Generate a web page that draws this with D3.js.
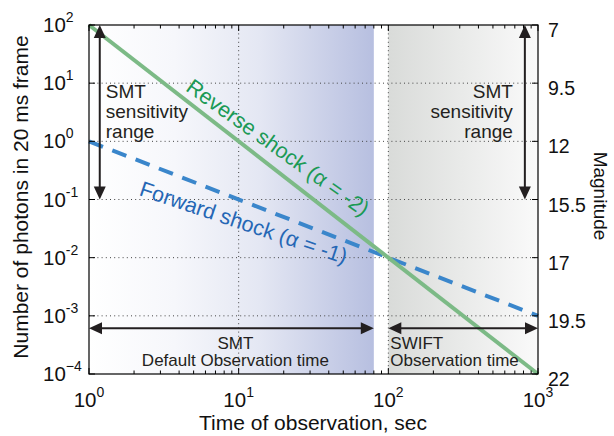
<!DOCTYPE html>
<html>
<head>
<meta charset="utf-8">
<script src="https://cdn.jsdelivr.net/npm/d3@7"></script>
<style>
html,body{margin:0;padding:0;background:#fff;}
svg{display:block;font-family:"Liberation Sans",Arial,Helvetica,sans-serif;}
</style>
</head>
<body>
<svg id="chart" width="614" height="436"></svg>
<script>
// ---- data ----
const xDomain = [1, 1000];
const yDomain = [1e-4, 1e2];
const xTickValues = [1, 10, 100, 1000];
const xTickExps = ["0", "1", "2", "3"];
const yTickValues = [1e2, 1e1, 1e0, 1e-1, 1e-2, 1e-3, 1e-4];
const yTickExps = ["2", "1", "0", "-1", "-2", "-3", "\u22124"];
const magnitudeLabels = ["7", "9.5", "12", "15.5", "17", "19.5", "22"];
const reverseShockX = [1, 1000];
const reverseShockY = [100, 1e-4];
const forwardShockX = [1, 1000];
const forwardShockY = [1, 1e-3];
const smtRegion = [1, 80];
const swiftRegion = [100, 1000];
const sensitivityRange = [100, 0.1];
const sensitivityArrowX = [1.18, 817];
const obsArrowY = 6.1e-4;

// ---- layout ----
const W = 614, H = 436;
const m = {left: 89, right: 76, top: 25, bottom: 62};
const iw = W - m.left - m.right, ih = H - m.top - m.bottom;
const svg = d3.select("#chart");
const defs = svg.append("defs");
const x = d3.scaleLog().domain(xDomain).range([0, iw]);
const y = d3.scaleLog().domain(yDomain).range([ih, 0]);
const g = svg.append("g").attr("transform", `translate(${m.left},${m.top})`);

// gradients
const gb = defs.append("linearGradient").attr("id", "gblue").attr("x1", "0").attr("x2", "1").attr("y1", "0").attr("y2", "0");
gb.append("stop").attr("offset", "0").attr("stop-color", "#ffffff");
gb.append("stop").attr("offset", "0.3").attr("stop-color", "#f6f7fb");
gb.append("stop").attr("offset", "0.6").attr("stop-color", "#e4e7f3");
gb.append("stop").attr("offset", "1").attr("stop-color", "#b7bfe0");
const gg = defs.append("linearGradient").attr("id", "ggray").attr("x1", "0").attr("x2", "1").attr("y1", "0").attr("y2", "0");
gg.append("stop").attr("offset", "0").attr("stop-color", "#d9dbd9");
gg.append("stop").attr("offset", "1").attr("stop-color", "#fafafa");

g.append("rect").attr("x", x(smtRegion[0])).attr("y", 0)
  .attr("width", x(smtRegion[1]) - x(smtRegion[0])).attr("height", ih).attr("fill", "url(#gblue)");
g.append("rect").attr("x", x(swiftRegion[0])).attr("y", 0)
  .attr("width", x(swiftRegion[1]) - x(swiftRegion[0])).attr("height", ih).attr("fill", "url(#ggray)");

// grid
const gridStyle = sel => sel.attr("stroke", "#444").attr("stroke-width", 1).attr("stroke-dasharray", "1,3.2");
g.selectAll(".gx").data([10, 100]).enter().append("line")
  .attr("x1", d => x(d)).attr("x2", d => x(d)).attr("y1", 0).attr("y2", ih).call(gridStyle);
g.selectAll(".gy").data(yTickValues.slice(1, -1)).enter().append("line")
  .attr("x1", 0).attr("x2", iw).attr("y1", d => y(d)).attr("y2", d => y(d)).call(gridStyle);

// lines
const line = d3.line().x(d => x(d[0])).y(d => y(d[1]));
g.append("path").datum(forwardShockX.map((v, i) => [v, forwardShockY[i]]))
  .attr("d", line).attr("fill", "none").attr("stroke", "#3a86cb").attr("stroke-width", 4)
  .attr("stroke-dasharray", "15,10");
g.append("path").datum(reverseShockX.map((v, i) => [v, reverseShockY[i]]))
  .attr("d", line).attr("fill", "none").attr("stroke", "#7cba86").attr("stroke-width", 4);

// arrows
const arrowColor = "#231f20";
function headV(px, py, dir) {
  const L = 13, hw = 6;
  return `M${px},${py} L${px - hw},${py - dir * L} L${px + hw},${py - dir * L} Z`;
}
function headH(px, py, dir) {
  const L = 13, hw = 6;
  return `M${px},${py} L${px - dir * L},${py - hw} L${px - dir * L},${py + hw} Z`;
}
function vArrow(xv) {
  const px = x(xv), y1 = y(sensitivityRange[0]), y2 = y(sensitivityRange[1]);
  g.append("line").attr("x1", px).attr("x2", px).attr("y1", y1 + 8).attr("y2", y2 - 8)
    .attr("stroke", arrowColor).attr("stroke-width", 2);
  g.append("path").attr("d", headV(px, y1, -1)).attr("fill", arrowColor);
  g.append("path").attr("d", headV(px, y2, 1)).attr("fill", arrowColor);
}
sensitivityArrowX.forEach(vArrow);
function hArrow(a, b) {
  const x1 = x(a), x2 = x(b), py = y(obsArrowY);
  g.append("line").attr("x1", x1 + 8).attr("x2", x2 - 8).attr("y1", py).attr("y2", py)
    .attr("stroke", arrowColor).attr("stroke-width", 2);
  g.append("path").attr("d", headH(x1, py, -1)).attr("fill", arrowColor);
  g.append("path").attr("d", headH(x2, py, 1)).attr("fill", arrowColor);
}
hArrow(smtRegion[0], smtRegion[1]);
hArrow(swiftRegion[0], swiftRegion[1]);

// annotation texts
const txtColor = "#231f20";
function multi(lines, px, py, anchor, lh, fs) {
  const t = g.append("text").attr("font-size", fs).attr("fill", txtColor).attr("text-anchor", anchor);
  lines.forEach((s, i) => t.append("tspan").attr("x", px).attr("y", py + i * lh).text(s));
}
multi(["SMT", "sensitivity", "range"], x(1.18) + 6, 73, "start", 20, 19);
multi(["SMT", "sensitivity", "range"], x(817) - 12, 73, "end", 20, 19);
multi(["SMT", "Default Observation time"], (x(1) + x(80)) / 2 + 4, 324, "middle", 17, 17);
multi(["SWIFT", "Observation time"], x(100) + 2, 324, "start", 17, 17);

function slanted(label, xv, yv, angle, color) {
  g.append("text").attr("transform", `translate(${x(xv)},${y(yv)}) rotate(${angle})`)
    .attr("font-size", 21.5).attr("fill", color).text(label);
}
slanted("Reverse shock (\u03b1 = -2)", 4.36, 7.6, 35.5, "#1b9a55");
slanted("Forward shock (\u03b1 = -1)", 2.13, 0.119, 18.5, "#2567b5");

// axes frame
g.append("rect").attr("x", 0).attr("y", 0).attr("width", iw).attr("height", ih)
  .attr("fill", "none").attr("stroke", "#000").attr("stroke-width", 1.2);

// minor / major ticks
const minors = [];
[1, 10, 100].forEach(d => { for (let k = 2; k <= 9; k++) minors.push(d * k); });
[0, ih].forEach(base => {
  const s = base === 0 ? 1 : -1;
  g.selectAll(null).data(minors).enter().append("line")
    .attr("x1", d => x(d)).attr("x2", d => x(d)).attr("y1", base).attr("y2", base + s * 3.5)
    .attr("stroke", "#000").attr("stroke-width", 1);
  g.selectAll(null).data(xTickValues).enter().append("line")
    .attr("x1", d => x(d)).attr("x2", d => x(d)).attr("y1", base).attr("y2", base + s * 6)
    .attr("stroke", "#000").attr("stroke-width", 1);
});
[0, iw].forEach(base => {
  const s = base === 0 ? 1 : -1;
  g.selectAll(null).data(yTickValues).enter().append("line")
    .attr("x1", base).attr("x2", base + s * 6).attr("y1", d => y(d)).attr("y2", d => y(d))
    .attr("stroke", "#000").attr("stroke-width", 1);
});

// tick labels
const xl = g.selectAll(".xl").data(xTickValues).enter().append("text")
  .attr("x", d => x(d)).attr("y", ih + 33).attr("text-anchor", "middle").attr("font-size", 20.5).attr("fill", "#111");
xl.append("tspan").text("10");
xl.append("tspan").attr("font-size", 14).attr("dy", -10).text((d, i) => xTickExps[i]);

const yl = g.selectAll(".yl").data(yTickValues).enter().append("text")
  .attr("x", -46).attr("y", d => y(d) + 7).attr("text-anchor", "start").attr("font-size", 20.5).attr("fill", "#111");
yl.append("tspan").text("10");
yl.append("tspan").attr("font-size", 14).attr("dy", -10).text((d, i) => yTickExps[i]);

g.selectAll(".rl").data(yTickValues).enter().append("text")
  .attr("x", iw + 10).attr("y", d => y(d) + 12).attr("font-size", 19.5).attr("fill", "#111")
  .text((d, i) => magnitudeLabels[i]);

// axis titles
svg.append("text").attr("x", 313).attr("y", 430).attr("text-anchor", "middle")
  .attr("font-size", 21).attr("fill", "#111").text("Time of observation, sec");
svg.append("text").attr("transform", "translate(28,197) rotate(-90)").attr("text-anchor", "middle")
  .attr("font-size", 21).attr("fill", "#111").text("Number of photons in 20 ms frame");
svg.append("text").attr("transform", "translate(594,196) rotate(90)").attr("text-anchor", "middle")
  .attr("font-size", 19).attr("fill", "#111").text("Magnitude");
</script>
</body>
</html>
